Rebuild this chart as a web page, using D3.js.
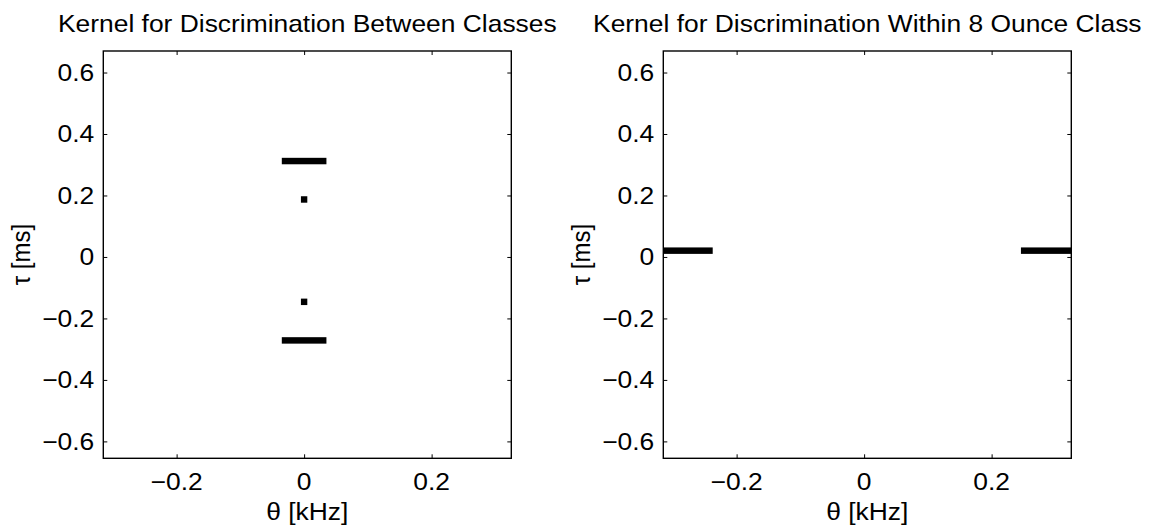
<!DOCTYPE html>
<html>
<head>
<meta charset="utf-8">
<script src="https://cdn.jsdelivr.net/npm/d3@7"></script>
<style>
  body { margin: 0; background: #fff; }
  text { font-family: "Liberation Sans", Arial, Helvetica, sans-serif; fill: #000; }
</style>
</head>
<body>
<div id="chart"></div>
<script>
// ---------------- data
const thetaDomain = [-0.315, 0.325]   // kHz
const tauDomain = [-0.655, 0.67]      // ms
const thetaTicks = [-0.2, 0, 0.2]
const tauTicks = [-0.6, -0.4, -0.2, 0, 0.2, 0.4, 0.6]
const tauStep = 0.021                 // kernel cell height, ms

// kernel 1: between classes (non-zero cells, as runs along theta)
const betweenTheta0 = [-0.035, -0.005, -0.005, -0.035]
const betweenTheta1 = [0.035, 0.005, 0.005, 0.035]
const betweenTau = [0.312, 0.187, -0.146, -0.2715]

// kernel 2: within 8 ounce class
const withinTheta0 = [-0.315, 0.246]
const withinTheta1 = [-0.2375, 0.325]
const withinTau = [0.0205, 0.0205]

const titles = ["Kernel for Discrimination Between Classes", "Kernel for Discrimination Within 8 Ounce Class"]
const xLabel = "\u03b8 [kHz]"
const yLabel = "\u03c4 [ms]"

// ---------------- layout
const width = 1151, height = 527
const panelTop = 51, panelBottom = 458.3
const panelLefts = [103.3, 663.3]
const panelWidth = 408
const fontSize = 24
const stretch = 1.1

const svg = d3.select("#chart").append("svg")
    .attr("width", width)
    .attr("height", height)
svg.append("rect").attr("width", width).attr("height", height).attr("fill", "#fff")

const fmt = d => d === 0 ? "0" : (d < 0 ? "\u2212" : "") + Math.abs(d).toString().replace(/^0/, "0")

// text helper: stretched a bit horizontally like the original
function label(g, x, y, txt, anchor, rotate) {
    g.append("text")
        .attr("transform", `translate(${x},${y}) scale(${stretch},1)` + (rotate ? " rotate(-90)" : ""))
        .attr("text-anchor", anchor)
        .style("font-size", fontSize + "px")
        .text(txt)
}

const kernels = [
    d3.range(betweenTau.length).map(i => ({t0: betweenTheta0[i], t1: betweenTheta1[i], tau: betweenTau[i]})),
    d3.range(withinTau.length).map(i => ({t0: withinTheta0[i], t1: withinTheta1[i], tau: withinTau[i]}))
]

kernels.forEach((cells, k) => {
    const left = panelLefts[k]
    const h = panelBottom - panelTop
    const x = d3.scaleLinear().domain(thetaDomain).range([0, panelWidth])
    const y = d3.scaleLinear().domain(tauDomain).range([h, 0])

    const g = svg.append("g").attr("transform", `translate(${left},${panelTop})`)

    g.append("clipPath").attr("id", "clip" + k)
        .append("rect").attr("width", panelWidth).attr("height", h)

    g.append("g").attr("clip-path", `url(#clip${k})`)
        .selectAll("rect")
        .data(cells)
        .join("rect")
        .attr("x", d => x(d.t0))
        .attr("width", d => x(d.t1) - x(d.t0))
        .attr("y", d => y(d.tau + tauStep / 2))
        .attr("height", d => y(d.tau - tauStep / 2) - y(d.tau + tauStep / 2))
        .attr("fill", "#000")

    // axes: inward ticks on all four sides, labels drawn separately
    const tick = 4
    const axisStyle = a => a.call(s => s.select(".domain").remove())
        .call(s => s.selectAll("line").attr("stroke", "#000").attr("stroke-width", 1))
        .call(s => s.selectAll("text").remove())
    g.append("g").attr("transform", `translate(0,${h})`)
        .call(d3.axisBottom(x).tickValues(thetaTicks).tickSize(-tick)).call(axisStyle)
    g.append("g")
        .call(d3.axisTop(x).tickValues(thetaTicks).tickSize(-tick)).call(axisStyle)
    g.append("g")
        .call(d3.axisLeft(y).tickValues(tauTicks).tickSize(-tick)).call(axisStyle)
    g.append("g").attr("transform", `translate(${panelWidth},0)`)
        .call(d3.axisRight(y).tickValues(tauTicks).tickSize(-tick)).call(axisStyle)

    g.append("rect")
        .attr("width", panelWidth).attr("height", h)
        .attr("fill", "none").attr("stroke", "#000").attr("stroke-width", 1.4)

    thetaTicks.forEach(t => label(g, x(t), h + 32, fmt(t), "middle"))
    tauTicks.forEach(t => label(g, -9, y(t) + 8.3, fmt(t), "end"))

    label(g, panelWidth / 2, h + 62, xLabel, "middle")
    label(g, -73, h / 2, yLabel, "middle", true)
    label(g, panelWidth / 2, 31.5 - panelTop, titles[k], "middle")
})
</script>
</body>
</html>
